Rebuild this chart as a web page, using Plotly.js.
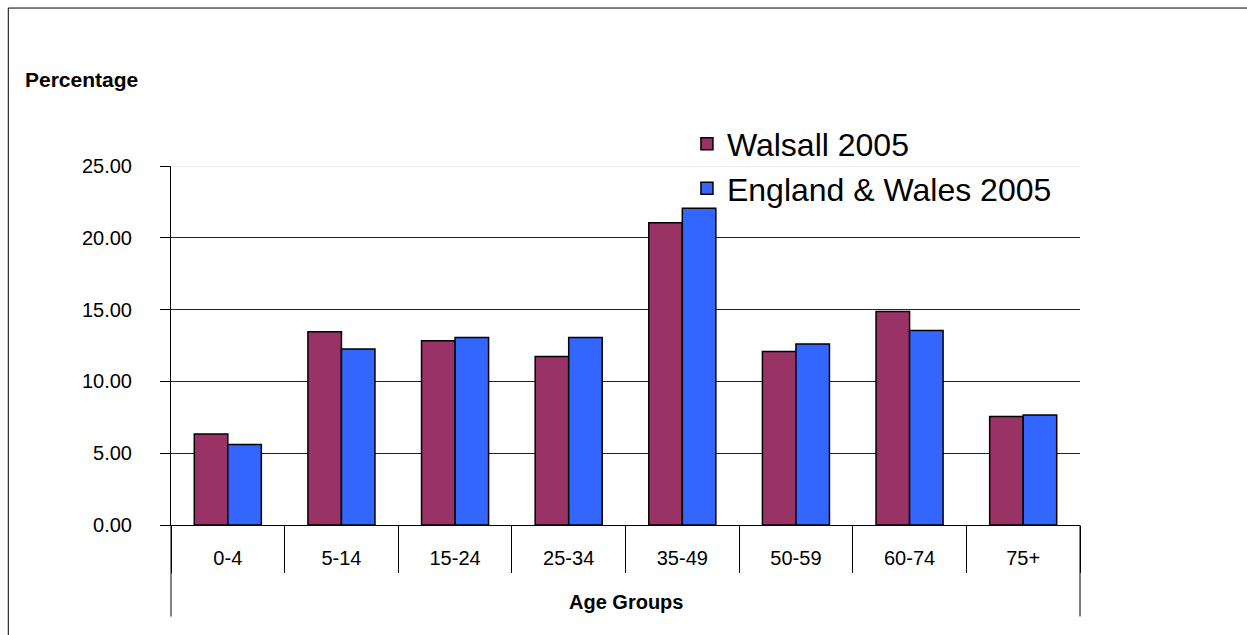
<!DOCTYPE html>
<html>
<head>
<meta charset="utf-8">
<script src="https://cdn.plot.ly/plotly-3.0.1.min.js"></script>
<style>
html,body{margin:0;padding:0;background:#fff;}
#chart{width:1247px;height:635px;}
</style>
</head>
<body>
<div id="chart"></div>
<script>
const categories = ["0-4","5-14","15-24","25-34","35-49","50-59","60-74","75+"];
const walsall2005 = [6.34, 13.46, 12.83, 11.74, 21.04, 12.09, 14.87, 7.55];
const englandWales2005 = [5.60, 12.25, 13.06, 13.06, 22.06, 12.60, 13.55, 7.66];
const seriesNames = ["Walsall 2005", "England & Wales 2005"];
const yTicks = [0, 5, 10, 15, 20, 25];

const font = "Liberation Sans, Arial, sans-serif";
const yTop = yTicks[yTicks.length - 1];

const traces = [
  {type:"bar", name:seriesNames[0], x:categories, y:walsall2005,
   marker:{color:"#993366", line:{color:"#000", width:1.5}}},
  {type:"bar", name:seriesNames[1], x:categories, y:englandWales2005,
   marker:{color:"#3366FF", line:{color:"#000", width:1.5}}}
];

const layout = {
  width:1247, height:635,
  margin:{l:171, r:167, t:166, b:110, pad:0},
  paper_bgcolor:"#fff", plot_bgcolor:"#fff",
  font:{family:font, color:"#000", size:20},
  barmode:"group", bargap:0.41, bargroupgap:0,
  showlegend:true,
  legend:{x:0.5676, y:1.138, xanchor:"left", yanchor:"top",
          font:{family:font, size:32, color:"#000"},
          bgcolor:"rgba(255,255,255,0)", tracegroupgap:0, itemwidth:30,
          traceorder:"normal"},
  xaxis:{type:"category", showline:true, linecolor:"#000", linewidth:1,
         ticks:"outside", tickson:"boundaries", ticklen:47, tickcolor:"#000",
         ticklabelstandoff:15,
         tickfont:{family:font, size:20}, showgrid:false, fixedrange:true},
  yaxis:{range:[0,yTop], tickvals:yTicks, tickformat:".2f",
         showline:true, linecolor:"#000", linewidth:1,
         ticks:"outside", ticklen:10, tickcolor:"#000",
         ticklabelstandoff:24,
         showgrid:true, gridcolor:"#222", gridwidth:1,
         zeroline:false, tickfont:{family:font, size:20}, fixedrange:true},
  shapes:[
    {type:"line", xref:"paper", yref:"y", x0:0.002, x1:1, y0:yTop, y1:yTop, layer:"above", line:{color:"#e6e6e6", width:1.5}},
    {type:"line", xref:"paper", yref:"paper", x0:0, x1:0, y0:0, y1:-0.255, line:{color:"#000", width:1}},
    {type:"line", xref:"paper", yref:"paper", x0:1, x1:1, y0:0, y1:-0.255, line:{color:"#000", width:1}},
    {type:"rect", xref:"paper", yref:"paper", x0:-0.179, x1:1.3, y0:-0.35, y1:1.44, line:{color:"#000", width:1}, fillcolor:"rgba(0,0,0,0)"}
  ],
  annotations:[
    {text:"<b>Percentage</b>", xref:"paper", yref:"paper", x:-0.1628, y:1.242, xanchor:"left", yanchor:"middle",
     showarrow:false, font:{family:font, size:21}},
    {text:"<b>Age Groups</b>", xref:"paper", yref:"paper", x:0.5, y:-0.2156, xanchor:"center", yanchor:"middle",
     showarrow:false, font:{family:font, size:20}}
  ]
};

Plotly.newPlot("chart", traces, layout, {displayModeBar:false, staticPlot:true});
</script>
</body>
</html>
